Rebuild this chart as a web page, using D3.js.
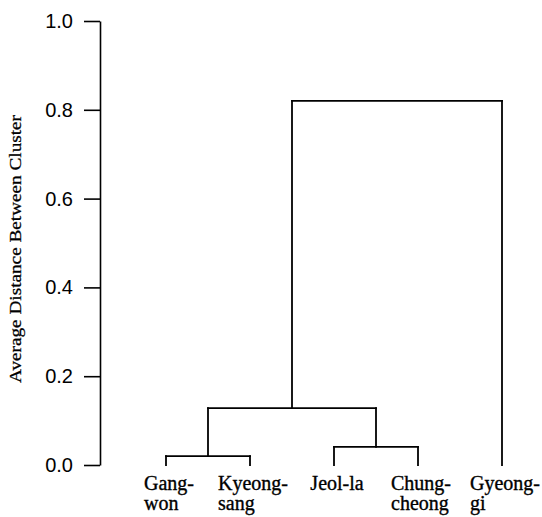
<!DOCTYPE html>
<html>
<head>
<meta charset="utf-8">
<script src="https://cdn.jsdelivr.net/npm/d3@7"></script>
<style>
  body { margin: 0; background: #fff; }
  svg { display: block; }
</style>
</head>
<body>
<div id="chart"></div>
<script>
// leaves, left to right
var leafTop = ["Gang-", "Kyeong-", "Jeol-la", "Chung-", "Gyeong-"];
var leafBottom = ["won", "sang", "", "cheong", "gi"];
// merge table like hclust: negative = leaf (1-based), positive = earlier merge
var mergeA = [-1, -3, 1, 3];
var mergeB = [-2, -4, 2, -5];
var mergeHeight = [0.02, 0.041, 0.128, 0.82];
var yTicks = [0, 0.2, 0.4, 0.6, 0.8, 1.0];

var width = 542, height = 517;

var svg = d3.select("#chart").append("svg")
    .attr("width", width)
    .attr("height", height);

var x = d3.scalePoint()
    .domain(d3.range(leafTop.length))
    .range([166, 502]);

var y = d3.scaleLinear()
    .domain([0, 1])
    .range([465, 21]);

// y axis
var yAxis = d3.axisLeft(y)
    .tickValues(yTicks)
    .tickFormat(d3.format(".1f"))
    .tickSize(16)
    .tickSizeOuter(0)
    .tickPadding(11);

var gy = svg.append("g")
    .attr("transform", "translate(100,0)")
    .call(yAxis);

gy.select(".domain").attr("stroke", "#000").attr("stroke-width", 1.6);
gy.selectAll(".tick line").attr("stroke", "#000").attr("stroke-width", 1.6);
gy.selectAll(".tick text")
    .attr("fill", "#000")
    .style("font-family", "'Liberation Sans', Arial, sans-serif")
    .style("font-size", "20px");

// axis title
svg.append("text")
    .attr("transform", "translate(21,249) rotate(-90)")
    .attr("text-anchor", "middle")
    .attr("textLength", 268)
    .attr("lengthAdjust", "spacingAndGlyphs")
    .style("font-family", "'Liberation Serif', 'Times New Roman', serif")
    .style("font-size", "16px")
    .attr("fill", "#000")
    .attr("stroke", "#000")
    .attr("stroke-width", 0.25)
    .text("Average Distance Between Cluster");

// dendrogram
var nodeX = [], nodeH = [];
function pos(id) {
  if (id < 0) return { x: x(-id - 1), h: 0 };
  return { x: nodeX[id - 1], h: nodeH[id - 1] };
}

var segs = [];
mergeHeight.forEach(function(h, i) {
  var a = pos(mergeA[i]), b = pos(mergeB[i]);
  segs.push([a.x, a.h, a.x, h]);
  segs.push([a.x, h, b.x, h]);
  segs.push([b.x, h, b.x, b.h]);
  nodeX.push((a.x + b.x) / 2);
  nodeH.push(h);
});

svg.append("g").selectAll("path")
    .data(segs)
    .enter().append("path")
    .attr("d", function(s) {
      return "M" + s[0] + "," + y(s[1]) + "L" + s[2] + "," + y(s[3]);
    })
    .attr("fill", "none")
    .attr("stroke", "#000")
    .attr("stroke-width", 1.8)
    .attr("stroke-linecap", "square");

// leaf labels
var labels = svg.append("g")
    .style("font-family", "'Liberation Serif', 'Times New Roman', serif")
    .style("font-size", "20px")
    .attr("fill", "#000")
    .attr("stroke", "#000")
    .attr("stroke-width", 0.35);

leafTop.forEach(function(t, i) {
  var txt = labels.append("text").attr("y", 490);
  var t1 = txt.append("tspan").text(t);
  var w = t1.node().getComputedTextLength();
  var left = x(i) - w / 2 + 3;
  t1.attr("x", left);
  if (leafBottom[i]) {
    txt.append("tspan").attr("x", left).attr("y", 510).text(leafBottom[i]);
  }
});
</script>
</body>
</html>
